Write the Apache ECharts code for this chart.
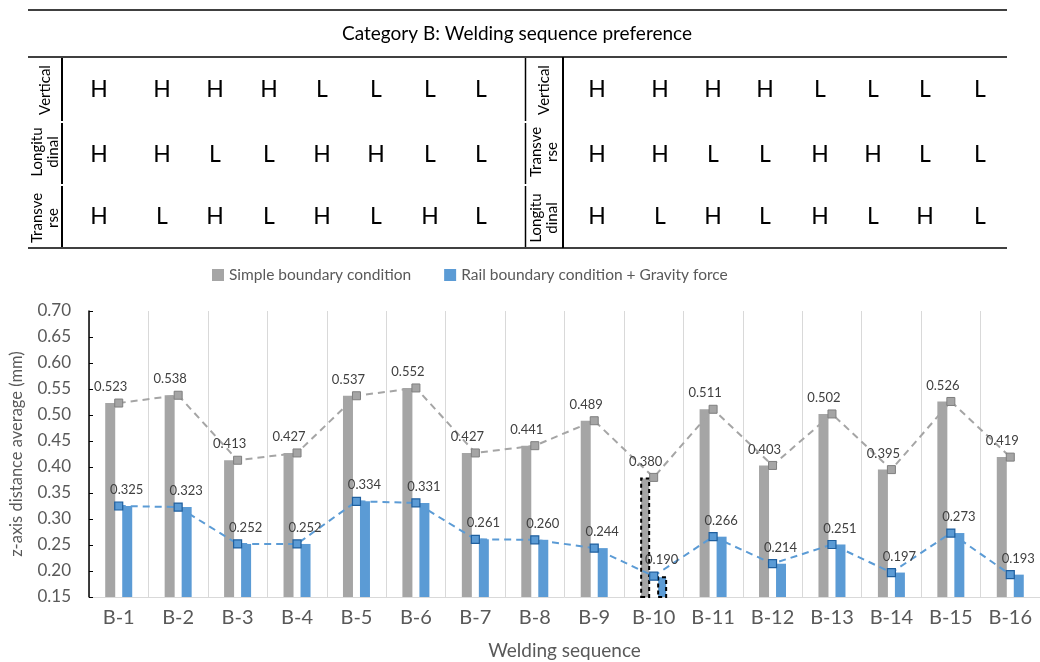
<!DOCTYPE html>
<html>
<head>
<meta charset="utf-8">
<script src="https://cdn.jsdelivr.net/npm/echarts@6/dist/echarts.min.js"></script>
<style>
html,body{margin:0;padding:0;background:#fff;}
#main{width:1040px;height:662px;}
</style>
</head>
<body>
<div id="main"></div>
<script>
// ---- data ----
const categories = ['B-1','B-2','B-3','B-4','B-5','B-6','B-7','B-8','B-9','B-10','B-11','B-12','B-13','B-14','B-15','B-16'];
const simpleValues = [0.523,0.538,0.413,0.427,0.537,0.552,0.427,0.441,0.489,0.380,0.511,0.403,0.502,0.395,0.526,0.419];
const railValues = [0.325,0.323,0.252,0.252,0.334,0.331,0.261,0.260,0.244,0.190,0.266,0.214,0.251,0.197,0.273,0.193];
const seriesNames = ['Simple boundary condition', 'Rail boundary condition + Gravity force'];
const highlightIndex = 9;
const tableTitle = 'Category B: Welding sequence preference';
const leftRowLabels = ['Vertical', 'Longitu\ndinal', 'Transve\nrse'];
const rightRowLabels = ['Vertical', 'Transve\nrse', 'Longitu\ndinal'];
const leftCells = [
  ['H','H','H','H','L','L','L','L'],
  ['H','H','L','L','H','H','L','L'],
  ['H','L','H','L','H','L','H','L']
];
const rightCells = [
  ['H','H','H','H','L','L','L','L'],
  ['H','H','L','L','H','H','L','L'],
  ['H','L','H','L','H','L','H','L']
];

// ---- table layout (graphic) ----
const FONT = 'Lato, "Open Sans", sans-serif';
const graphics = [];
function hline(y, x1, x2, w) {
  graphics.push({type:'line', shape:{x1:x1,y1:y,x2:x2,y2:y}, style:{stroke:'#000', lineWidth:w}});
}
function vline(x, y1, y2, w) {
  graphics.push({type:'line', shape:{x1:x,y1:y1,x2:x,y2:y2}, style:{stroke:'#000', lineWidth:w}});
}
hline(10, 28, 1007, 1.5);
hline(57, 28, 1007, 1.5);
hline(248, 28, 1007, 1.5);
const rowBounds = [57, 122, 185, 248];
for (let r = 0; r < 3; r++) {
  vline(62, rowBounds[r] + 1, rowBounds[r+1] - 1, 2);
  vline(525.5, rowBounds[r] + 1, rowBounds[r+1] - 1, 1.5);
}
vline(563, 57, 248, 2);
graphics.push({type:'text', x:517, y:34, style:{text:tableTitle, font:'19px ' + FONT, fill:'#000', align:'center', verticalAlign:'middle'}});
const rowY = [90, 155, 217];
const labelRowY = [90, 152, 218];
const leftColX = [99, 162, 215, 269, 322, 376, 430, 481];
const rightColX = [597, 660, 713, 765, 820, 873, 925, 980];
function rowLabel(x, y, txt) {
  graphics.push({type:'text', x:x, y:y, rotation:Math.PI/2,
    style:{text:txt, font:'15px ' + FONT, fill:'#000', align:'center', verticalAlign:'middle', lineHeight:16}});
}
for (let r = 0; r < 3; r++) {
  rowLabel(45, labelRowY[r], leftRowLabels[r]);
  rowLabel(544, labelRowY[r], rightRowLabels[r]);
  for (let c = 0; c < 8; c++) {
    graphics.push({type:'text', x:leftColX[c], y:rowY[r], style:{text:leftCells[r][c], font:'23px ' + FONT, fill:'#000', align:'center', verticalAlign:'middle'}});
    graphics.push({type:'text', x:rightColX[c], y:rowY[r], style:{text:rightCells[r][c], font:'23px ' + FONT, fill:'#000', align:'center', verticalAlign:'middle'}});
  }
}

// ---- chart ----
const GRAY = '#a5a5a5', BLUE = '#5b9bd5';
function barData(vals) {
  return vals.map((v, i) => i === highlightIndex
    ? {value: v, itemStyle: {borderColor:'#000', borderWidth:2, borderType:[4,3]}}
    : v);
}
const chart = echarts.init(document.getElementById('main'), null, {renderer:'canvas'});
chart.setOption({
  animation: false,
  textStyle: {fontFamily: FONT},
  graphic: graphics,
  legend: {
    data: seriesNames,
    left: 207, top: 262,
    icon: 'rect', itemWidth: 12, itemHeight: 12, itemGap: 33,
    textStyle: {fontSize: 15.5, color: '#595959', fontFamily: FONT}
  },
  grid: {left: 86.7, right: -10, top: 311, bottom: 65, containLabel: false},
  xAxis: {
    type: 'category', data: categories,
    axisLine: {lineStyle: {color: '#d9d9d9', width: 1}},
    axisTick: {show: false},
    splitLine: {show: true, lineStyle: {color: '#d9d9d9', width: 1}},
    axisLabel: {fontSize: 20, color: '#595959', margin: 11, interval: 0, fontFamily: FONT},
    name: 'Welding sequence', nameLocation: 'middle', nameGap: 44,
    nameTextStyle: {fontSize: 19, color: '#595959', fontFamily: FONT}
  },
  yAxis: {
    type: 'value', min: 0.15, max: 0.70, interval: 0.05,
    axisLine: {show: true, lineStyle: {color: '#000', width: 1.5}},
    axisTick: {show: true, inside: true, length: 4, lineStyle: {color: '#000'}},
    splitLine: {show: false},
    axisLabel: {fontSize: 17, color: '#595959', margin: 18, formatter: v => v.toFixed(2), fontFamily: FONT},
    name: 'z-axis distance average (mm)', nameLocation: 'middle', nameRotate: 90, nameGap: 64,
    nameTextStyle: {fontSize: 16.5, color: '#595959', fontFamily: FONT}
  },
  series: [
    {name: seriesNames[0], type: 'bar', data: barData(simpleValues), barWidth: 10, barGap: '70%',
     itemStyle: {color: GRAY}, z: 2},
    {name: seriesNames[1], type: 'bar', data: barData(railValues), barWidth: 10,
     itemStyle: {color: BLUE}, z: 2},
    {name: 'simpleLine', type: 'line', data: simpleValues, symbol: 'rect', symbolSize: 8,
     itemStyle: {color: GRAY, borderColor: '#7f7f7f', borderWidth: 1},
     lineStyle: {color: GRAY, width: 2, type: [7,5]}, z: 5,
     label: {show: true, position: 'top', offset: [-8, 0], fontSize: 13, color: '#404040', fontFamily: FONT,
       formatter: p => p.value.toFixed(3)}},
    {name: 'railLine', type: 'line', data: railValues, symbol: 'rect', symbolSize: 8,
     itemStyle: {color: BLUE, borderColor: '#1f5f9e', borderWidth: 1.2},
     lineStyle: {color: BLUE, width: 2, type: [7,5]}, z: 5,
     label: {show: true, position: 'top', offset: [8, 0], fontSize: 13, color: '#404040', fontFamily: FONT,
       formatter: p => p.value.toFixed(3)}}
  ]
});
</script>
</body>
</html>
